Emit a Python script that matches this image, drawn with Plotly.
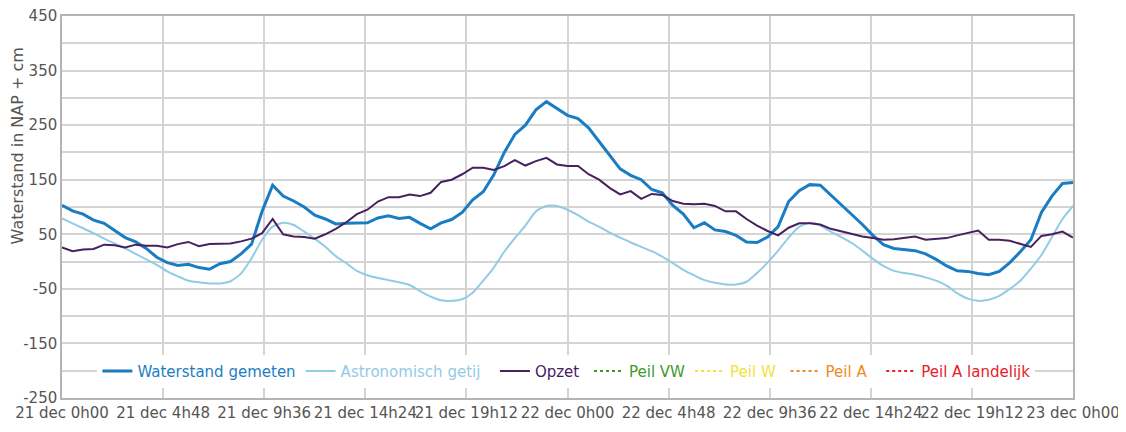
import plotly.graph_objects as go
import pandas as pd

# half-hourly samples, 21 dec 0h00 .. 23 dec 0h00
times = pd.date_range("2022-12-21 00:00", "2022-12-23 00:00", freq="30min")

waterstand = [
    103, 93, 87, 76, 70, 57, 44, 36, 24, 8,
    -2, -7, -5, -11, -14, -4, 0, 14, 32, 92,
    140, 120, 111, 100, 85, 78, 69, 70, 70, 71,
    80, 84, 79, 81, 70, 60, 71, 77, 90, 113,
    128, 159, 200, 233, 250, 278, 293, 280, 268, 262,
    245, 220, 195, 170, 158, 150, 132, 126, 103, 87,
    62, 71, 58, 55, 48, 36, 35, 45, 64, 110,
    130, 141, 140, 122, 103, 86, 68, 48, 31, 24,
    22, 20, 14, 4, -8, -17, -18, -22, -24, -18,
    -2, 18, 40, 90, 120, 143, 145,
]

astronomisch = [
    79, 70, 61, 52, 42, 33, 24, 14, 4, -6,
    -18, -27, -35, -38, -40, -40, -36, -22, 6, 40,
    64, 71, 67, 55, 42, 27, 10, -3, -17, -25,
    -30, -34, -38, -43, -54, -64, -71, -72, -69, -57,
    -35, -11, 18, 43, 66, 92, 102, 102, 95, 85,
    73, 64, 53, 44, 35, 27, 19, 9, -3, -15,
    -25, -34, -39, -42, -42, -37, -21, -2, 20, 44,
    64, 71, 66, 55, 45, 34, 20, 5, -8, -17,
    -21, -24, -29, -35, -44, -58, -68, -72, -70, -63,
    -50, -35, -13, 12, 45, 78, 102,
]

opzet = [
    26, 19, 22, 23, 31, 30, 26, 31, 29, 29,
    26, 32, 36, 28, 32, 33, 33, 37, 42, 52,
    78, 50, 46, 45, 42, 50, 60, 72, 87, 95,
    110, 118, 118, 123, 120, 126, 146, 150, 160, 172,
    172, 168, 175, 186, 176, 184, 190, 178, 175, 175,
    160, 150, 135, 123, 129, 115, 124, 122, 111, 106,
    105, 106, 102, 92, 92, 78, 66, 56, 48, 62,
    70, 70, 68, 60, 55, 50, 46, 43, 40, 41,
    43, 46, 40, 42, 43, 48, 53, 57, 40, 40,
    38, 32, 27, 47, 50, 55, 44,
]

tick_times = pd.date_range("2022-12-21 00:00", "2022-12-23 00:00", freq="288min")
tick_labels = [
    "21 dec 0h00", "21 dec 4h48", "21 dec 9h36", "21 dec 14h24", "21 dec 19h12",
    "22 dec 0h00", "22 dec 4h48", "22 dec 9h36", "22 dec 14h24", "22 dec 19h12",
    "23 dec 0h00",
]
y_tick_vals = [450, 350, 250, 150, 50, -50, -150, -250]
y_tick_labels = ["450", "350", "250", "150", "50", "-50", "-150", "-250"]

peil_names = ["Peil VW", "Peil W", "Peil A", "Peil A landelijk"]
peil_colors = ["#3f9a2c", "#f2e23a", "#ef8a22", "#e8202a"]

NB = "\u00a0"


def label(text, color, pad=0):
    return f"<span style='color:{color}'>{text}</span>" + NB * pad


fig = go.Figure()
fig.add_trace(go.Scatter(
    x=times, y=waterstand, mode="lines",
    name=label("Waterstand gemeten", "#1a7dc4"),
    line=dict(color="#1a7dc4", width=3)
))
fig.add_trace(go.Scatter(
    x=times, y=astronomisch, mode="lines",
    name=label("Astronomisch getij", "#92cbe6", 2),
    line=dict(color="#92cbe6", width=2, shape="spline", smoothing=0.6)
))
fig.add_trace(go.Scatter(
    x=times, y=opzet, mode="lines",
    name=label("Opzet", "#46205f", 1),
    line=dict(color="#46205f", width=2)
))
for name, color, pad in zip(peil_names, peil_colors, [0, 1, 2, 0]):
    fig.add_trace(go.Scatter(
        x=[times[0]], y=[None], mode="lines",
        name=label(name, color, pad),
        line=dict(color=color, width=2, dash="dot")
    ))

# the page body adds an 8px offset, so margins are shifted accordingly
fig.update_layout(
    width=1126, height=432,
    margin=dict(l=54, r=61, t=8, b=42),
    paper_bgcolor="white",
    plot_bgcolor="white",
    font=dict(family="DejaVu Sans", size=15, color="#555555"),
    showlegend=True,
    legend=dict(
        orientation="h", x=0.035, xanchor="left", y=0.07, yanchor="middle",
        bgcolor="white", font=dict(size=15), itemwidth=30,
        tracegroupgap=0
    ),
)
fig.add_annotation(
    text="Waterstand in NAP + cm", textangle=-90,
    xref="paper", yref="paper", x=-0.044, y=0.66,
    xanchor="center", yanchor="middle", showarrow=False,
    font=dict(size=16, color="#555555")
)
fig.update_xaxes(
    range=[times[0], times[-1]], automargin=False,
    tickvals=tick_times, ticktext=tick_labels, tickangle=0,
    ticklabeloverflow="allow",
    showgrid=True, gridcolor="#d4d4d4", gridwidth=1.5,
    showline=True, mirror=True, linecolor="#b4b4b4", linewidth=1.5,
    ticks="", tickfont=dict(size=15, color="#555555"),
)
fig.update_yaxes(
    range=[-250, 450], automargin=False,
    tickvals=y_tick_vals, ticktext=y_tick_labels,
    ticklabeloverflow="allow",
    showgrid=True, gridcolor="#d4d4d4", gridwidth=1.5,
    minor=dict(dtick=50, tick0=-250, showgrid=True, gridcolor="#d4d4d4", gridwidth=1.5),
    showline=True, mirror=True, linecolor="#b4b4b4", linewidth=1.5,
    zeroline=False, ticks="",
    tickfont=dict(size=15, color="#555555"),
)

fig.write_html("out.html")
